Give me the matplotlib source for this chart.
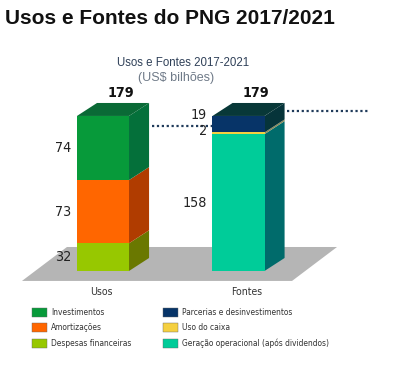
import matplotlib.pyplot as plt
from matplotlib.patches import Polygon, Patch
from matplotlib import font_manager as fm

# data (US$ bilhões)
categories = ['Usos', 'Fontes']
usos_labels = ['Despesas financeiras', 'Amortizações', 'Investimentos']
usos_values = [32, 73, 74]
fontes_labels = ['Geração operacional (após dividendos)', 'Uso do caixa',
                 'Parcerias e desinvestimentos']
fontes_values = [158, 2, 19]

usos_front = ['#97c800', '#ff6600', '#079a3a']
usos_side = ['#6a7800', '#b03c00', '#04703a']
usos_top = '#0a6a36'
fontes_front = ['#00cc99', '#f5d040', '#073468']
fontes_side = ['#006b6b', '#8a8a5a', '#06343a']
fontes_top = '#083838'

# pick a narrow face if the system has one
_names = {f.name for f in fm.fontManager.ttflist}
_cond = fm.findfont(fm.FontProperties(family='DejaVu Sans', stretch='condensed'))
if 'Liberation Sans Narrow' in _names:
    NARROW, SCALE, STRETCH = 'Liberation Sans Narrow', 1.0, 'normal'
elif 'Condensed' in _cond:
    NARROW, SCALE, STRETCH = 'DejaVu Sans', 0.95, 'condensed'
else:
    NARROW, SCALE, STRETCH = 'DejaVu Sans', 0.82, 'normal'


def nfont(size, weight='normal'):
    return fm.FontProperties(family=NARROW, size=size * SCALE, weight=weight,
                             stretch=STRETCH)


fig = plt.figure(figsize=(4.14, 3.73), dpi=100)
ax = fig.add_axes([0, 0, 1, 1])
ax.set_xlim(-0.760, 2.295)
ax.set_ylim(-117.8, 312.9)
ax.axis('off')

xs = [0, 1]
w = 0.384
dx, dy = 0.148, 15

# floor
floor = Polygon([(xs[0] - 0.598, -11.5), (xs[-1] + 0.395, -11.5),
                 (xs[-1] + 0.727, 27.7), (xs[0] - 0.266, 27.7)],
                closed=True, color='#b5b5b5', lw=0, zorder=1)
ax.add_patch(floor)


def draw_stack(x, vals, front, side, top):
    bottom = 0
    for i, v in enumerate(vals):
        ax.bar(x, v, width=w, bottom=bottom, color=front[i], lw=0, zorder=3)
        xr = x + w / 2
        ax.add_patch(Polygon([(xr, bottom), (xr + dx, bottom + dy),
                              (xr + dx, bottom + v + dy), (xr, bottom + v)],
                             closed=True, color=side[i], lw=0, zorder=2))
        if v < 25:
            ly = bottom + v + 1.5
        else:
            ly = bottom + v / 2
        ax.text(x - w / 2 - 0.04, ly, str(v), ha='right', va='center',
                fontproperties=nfont(10.8), color='#222222', zorder=5)
        bottom += v
    xl, xr = x - w / 2, x + w / 2
    ax.add_patch(Polygon([(xl, bottom), (xl + dx, bottom + dy),
                          (xr + dx, bottom + dy), (xr, bottom)],
                         closed=True, color=top, lw=0, zorder=3))
    ax.text(x + 0.13, bottom + dy + 12, str(bottom), ha='center', va='center',
            fontproperties=nfont(10.8, 'bold'), color='#111111')
    return bottom


tot_u = draw_stack(xs[0], usos_values, usos_front, usos_side, usos_top)
tot_f = draw_stack(xs[1], fontes_values, fontes_front, fontes_side, fontes_top)

# dotted reference lines
ax.plot([xs[0] + w / 2 + dx + 0.02, xs[1] - w / 2], [tot_u - 12, tot_u - 12],
        ls=(0, (1, 1.2)), color='#1f3a5a', lw=1.6, zorder=4)
ax.plot([xs[1] + w / 2 + dx + 0.02, xs[1] + w / 2 + dx + 0.62],
        [tot_f + 6, tot_f + 6], ls=(0, (1, 1.2)), color='#1f3a5a', lw=1.6, zorder=4)

# category labels
for x, c in zip(xs, categories):
    ax.text(x + (0.06 if x else -0.01), -24, c, ha='center', va='center',
            fontproperties=nfont(8), color='#333333')

# titles
fig.text(5 / 414, 1 - 18 / 373, 'Usos e Fontes do PNG 2017/2021', ha='left',
         va='center', fontsize=15, weight='bold', family=['Liberation Sans', 'DejaVu Sans'],
         color='#111111')
fig.text(183 / 414, 1 - 63 / 373, 'Usos e Fontes 2017-2021', ha='center',
         va='center', fontsize=8.3, family=['Liberation Sans', 'DejaVu Sans'], color='#2f4058')
fig.text(176 / 414, 1 - 78 / 373, '(US$ bilhões)', ha='center', va='center',
         fontsize=9, family=['Liberation Sans', 'DejaVu Sans'], color='#6f7a88')

# legends
h1 = [Patch(facecolor=usos_front[i], edgecolor='#666666', lw=0.3, label=usos_labels[i])
      for i in [2, 1, 0]]
h2 = [Patch(facecolor=fontes_front[i], edgecolor='#666666', lw=0.3, label=fontes_labels[i])
      for i in [2, 1, 0]]
lp = nfont(6.3)
fs = lp.get_size_in_points()
px = 0.72  # points per pixel at 100 dpi
common = dict(loc='upper left', frameon=False, borderpad=0, borderaxespad=0,
              handlelength=15 * px / fs, handleheight=11 * px / fs,
              handletextpad=4 * px / fs, labelspacing=6.2 * px / fs, prop=lp)
leg1 = fig.legend(handles=h1, bbox_to_anchor=(32 / 414, 1 - 307.5 / 373), **common)
leg2 = fig.legend(handles=h2, bbox_to_anchor=(163 / 414, 1 - 307.5 / 373), **common)
for leg in (leg1, leg2):
    for t in leg.get_texts():
        t.set_color('#333333')

fig.savefig('out.png', dpi=100)
